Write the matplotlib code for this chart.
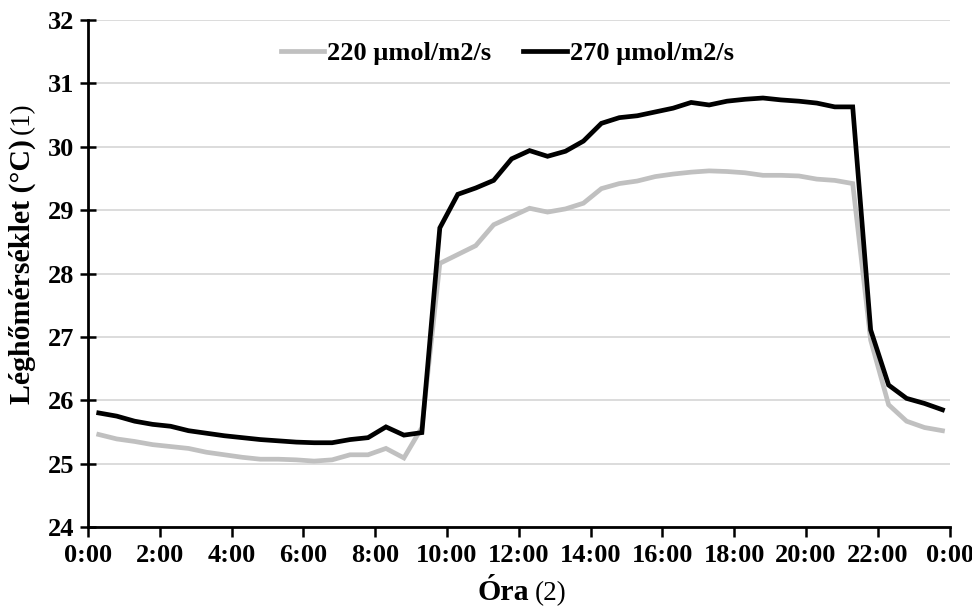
import matplotlib
matplotlib.use("Agg")
import matplotlib.pyplot as plt

# Sampling times (h:mm) of the air-temperature log
times = [
    "0:18", "0:48", "1:18", "1:48", "2:18", "2:48", "3:18", "3:48",
    "4:18", "4:48", "5:18", "5:48", "6:18", "6:48", "7:18", "7:48",
    "8:18", "8:48", "9:18", "9:48", "10:18", "10:48", "11:18", "11:48",
    "12:18", "12:48", "13:18", "13:48", "14:18", "14:48", "15:18", "15:48",
    "16:18", "16:48", "17:18", "17:48", "18:18", "18:48", "19:18", "19:48",
    "20:18", "20:48", "21:18", "21:48", "22:18", "22:48", "23:18", "23:48",
]

# Air temperature (°C) at 220 µmol/m2/s
temp_220 = [
    25.46, 25.39, 25.35, 25.30, 25.27, 25.24, 25.18, 25.14,
    25.10, 25.07, 25.07, 25.06, 25.04, 25.06, 25.14, 25.14,
    25.24, 25.09, 25.57, 28.16, 28.30, 28.44, 28.77, 28.90,
    29.03, 28.97, 29.02, 29.11, 29.34, 29.42, 29.46, 29.53,
    29.57, 29.60, 29.62, 29.61, 29.59, 29.55, 29.55, 29.54,
    29.49, 29.47, 29.42, 26.95, 25.93, 25.67, 25.57, 25.52,
]

# Air temperature (°C) at 270 µmol/m2/s
temp_270 = [
    25.80, 25.75, 25.67, 25.62, 25.59, 25.52, 25.48, 25.44,
    25.41, 25.38, 25.36, 25.34, 25.33, 25.33, 25.38, 25.41,
    25.58, 25.45, 25.49, 28.72, 29.25, 29.35, 29.47, 29.81,
    29.94, 29.85, 29.93, 30.09, 30.37, 30.46, 30.49, 30.55,
    30.61, 30.70, 30.66, 30.72, 30.75, 30.77, 30.74, 30.72,
    30.69, 30.63, 30.63, 27.11, 26.24, 26.03, 25.95, 25.85,
]

series_labels = ["220 µmol/m2/s", "270 µmol/m2/s"]
tick_hours = [0, 2, 4, 6, 8, 10, 12, 14, 16, 18, 20, 22, 24]
tick_labels = ["0:00", "2:00", "4:00", "6:00", "8:00", "10:00", "12:00",
               "14:00", "16:00", "18:00", "20:00", "22:00", "0:00"]
y_ticks = [24, 25, 26, 27, 28, 29, 30, 31, 32]


def to_hours(t):
    h, m = t.split(":")
    return int(h) + int(m) / 60.0


x = [to_hours(t) for t in times]

plt.rcParams["font.family"] = ["Liberation Serif", "DejaVu Serif"]
FS = 19
TITLE_FS = 21.5
INDEX_FS = 19.5

fig = plt.figure(figsize=(9.72, 6.08), dpi=100)
ax = fig.add_axes([0.0905, 0.1332, 0.8865, 0.8338])

ax.plot(x, temp_220, color="#c0c0c0", lw=3.4, solid_joinstyle="miter",
        label=series_labels[0], zorder=3)
ax.plot(x, temp_270, color="black", lw=3.4, solid_joinstyle="miter",
        label=series_labels[1], zorder=4)

ax.set_xlim(0, 24)
ax.set_ylim(24, 32)
ax.set_xticks(tick_hours)
ax.set_xticklabels(tick_labels)
ax.set_yticks(y_ticks)

ax.grid(axis="y", color="#d9d9d9", lw=1.3)
ax.set_axisbelow(True)
for side in ("top", "right"):
    ax.spines[side].set_visible(False)
for side in ("left", "bottom"):
    ax.spines[side].set_linewidth(2.0)
    ax.spines[side].set_color("black")

ax.tick_params(axis="y", direction="inout", length=12, width=1.8,
               pad=4, labelsize=FS)
ax.tick_params(axis="x", direction="out", length=7, width=1.8,
               pad=5, labelsize=FS)
for lab in ax.get_xticklabels() + ax.get_yticklabels():
    lab.set_fontweight("bold")

leg = ax.legend(loc="upper center", bbox_to_anchor=(0.4867, 1.005), ncol=2,
                frameon=False, handlelength=1.65, handletextpad=0.12,
                columnspacing=1.2, prop={"weight": "bold", "size": FS})

# Axis titles: bold name followed by a regular-weight index
xt = fig.text(0.544, 0.003, "Óra", fontsize=TITLE_FS, fontweight="bold",
              ha="right", va="bottom")
ax.annotate("(2)", xy=(1, 0), xycoords=xt, xytext=(4, 0),
            textcoords="offset points", fontsize=INDEX_FS,
            ha="left", va="bottom")
yt = fig.text(0.009, 0.335, "Léghőmérséklet (°C)", fontsize=TITLE_FS,
              fontweight="bold", rotation=90, ha="left", va="bottom")
ax.annotate("(1)", xy=(0, 1), xycoords=yt, xytext=(1, 4),
            textcoords="offset points", fontsize=INDEX_FS, rotation=90,
            ha="left", va="bottom", annotation_clip=False)

fig.savefig("out.png", dpi=100)
